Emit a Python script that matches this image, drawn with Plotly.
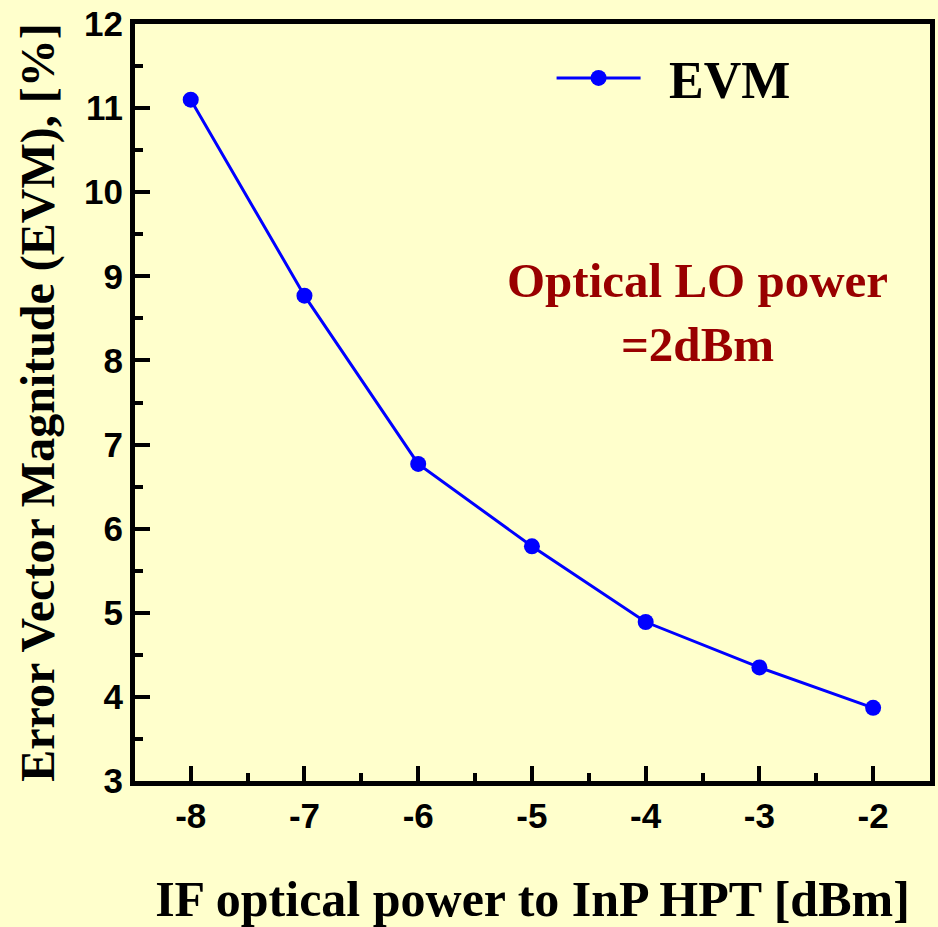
import plotly.graph_objects as go

# IF optical power sweep and measured EVM
if_power_dbm = [-8, -7, -6, -5, -4, -3, -2]
evm_percent = [11.10, 8.77, 6.77, 5.79, 4.89, 4.35, 3.87]

x_ticks = [-8, -7, -6, -5, -4, -3, -2]
y_ticks = [3, 4, 5, 6, 7, 8, 9, 10, 11, 12]

bg = "#FFFFCC"
sans = "Liberation Sans, Arial, sans-serif"
serif = "Liberation Serif, Times New Roman, serif"

fig = go.Figure()
fig.add_trace(go.Scatter(
    x=if_power_dbm, y=evm_percent, mode="lines+markers", name="\u00a0\u2009EVM",
    line=dict(color="#0000FF", width=3),
    marker=dict(color="#0000FF", size=16),
))

axis_common = dict(
    showline=True, linecolor="black", linewidth=5, mirror=True,
    ticks="inside", ticklen=15, tickwidth=4, tickcolor="black",
    showgrid=False, zeroline=False, automargin=False,
    tickfont=dict(family=sans, size=35, color="black", weight="bold"),
    minor=dict(ticks="inside", ticklen=8, tickwidth=4, tickcolor="black"),
)

fig.update_xaxes(
    range=[-8.49, -1.5], tickvals=x_ticks, ticktext=[str(v) for v in x_ticks],
    minor_dtick=0.5, minor_tick0=-8.5,
    title=dict(text="<b>IF optical power to InP HPT [dBm]</b>",
               font=dict(family=serif, size=50, color="black"), standoff=60),
    **axis_common,
)
fig.update_yaxes(
    range=[3, 12], tickvals=y_ticks, ticktext=[str(v) for v in y_ticks],
    minor_dtick=0.5, minor_tick0=3,
    title=dict(text="<b>Error Vector Magnitude (EVM), [%]</b>",
               font=dict(family=serif, size=48, color="black"), standoff=16),
    **axis_common,
)

fig.add_annotation(
    x=0.708, y=0.619, xref="paper", yref="paper", xanchor="center", yanchor="middle",
    text="<b>Optical LO power<br>=2dBm</b>", showarrow=False,
    font=dict(family=serif, size=49, color="#990000"), align="center",
)

fig.update_layout(
    width=938, height=927,
    margin=dict(l=135, r=8, t=24, b=146),
    paper_bgcolor=bg, plot_bgcolor=bg,
    showlegend=True,
    legend=dict(x=0.524, y=0.982, xanchor="left", yanchor="top",
                bgcolor="rgba(0,0,0,0)", itemwidth=84,
                font=dict(family=serif, size=52, color="black", weight="bold")),
)

fig.write_html("out.html")
